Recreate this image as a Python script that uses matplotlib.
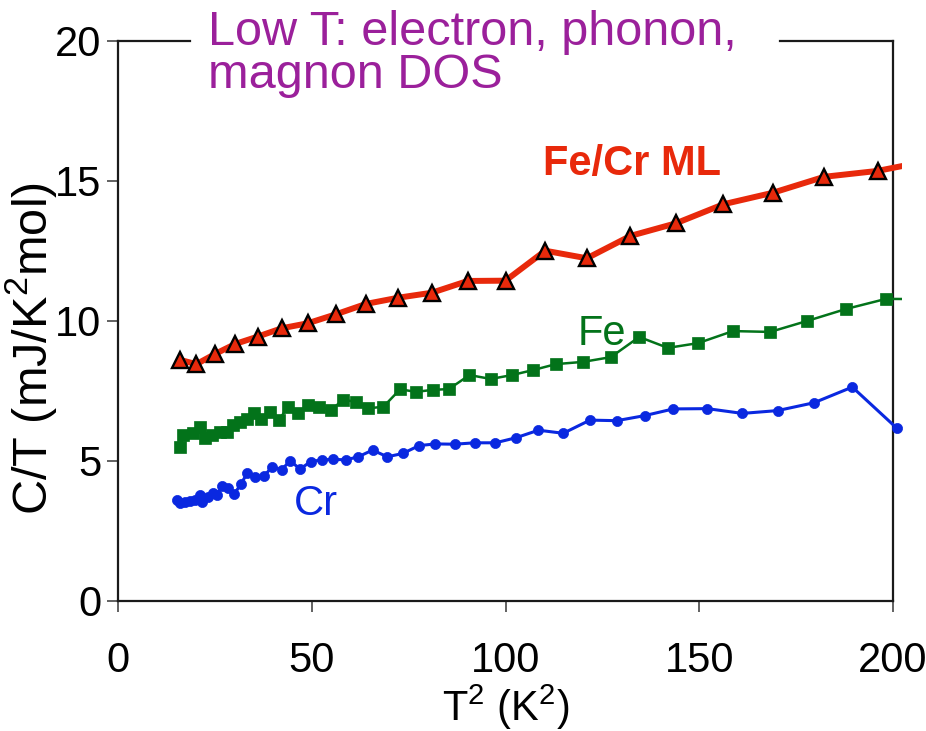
import matplotlib
matplotlib.use("Agg")
import matplotlib.pyplot as plt
from matplotlib import font_manager
from matplotlib.transforms import Bbox, TransformedBbox

# ---- data -------------------------------------------------------------
# Fe/Cr multilayer
fecr_t2 = [16.0, 20.25, 25.0, 30.25, 36.0, 42.25, 49.0, 56.25, 64.0, 72.25,
           81.0, 90.25, 100.0, 110.25, 121.0, 132.25, 144.0, 156.25, 169.0,
           182.25, 196.0, 210.25]
fecr_ct = [8.61, 8.46, 8.82, 9.18, 9.44, 9.74, 9.92, 10.24, 10.61, 10.83,
           11.01, 11.43, 11.44, 12.51, 12.24, 13.04, 13.49, 14.17, 14.58,
           15.15, 15.36, 15.75]

# Fe
fe_t2 = [16.0, 16.9, 19.4, 21.2, 22.5, 24.2, 26.3, 28.1, 29.8, 31.5, 33.2,
         35.2, 36.9, 39.2, 41.5, 43.9, 46.4, 49.1, 51.9, 55.0, 58.0, 61.4,
         64.6, 68.5, 72.8, 76.9, 81.2, 85.4, 90.7, 96.2, 101.7, 107.2, 113.0,
         120.0, 127.2, 134.5, 141.9, 149.7, 158.7, 168.3, 177.8, 187.9, 198.2,
         208.0]
fe_ct = [5.51, 5.93, 5.99, 6.23, 5.81, 5.93, 6.05, 6.02, 6.29, 6.40, 6.50,
         6.70, 6.49, 6.76, 6.46, 6.94, 6.70, 7.00, 6.94, 6.82, 7.18, 7.12,
         6.88, 6.94, 7.56, 7.47, 7.54, 7.57, 8.07, 7.93, 8.07, 8.25, 8.46,
         8.54, 8.71, 9.43, 9.04, 9.21, 9.64, 9.61, 10.00, 10.43, 10.79, 10.78]

# Cr
cr_t2 = [15.1, 16.0, 17.3, 18.6, 19.9, 21.1, 21.6, 23.3, 24.4, 25.6, 26.8,
         28.5, 30.0, 31.7, 33.4, 35.4, 37.7, 39.8, 42.2, 44.4, 47.0, 49.7,
         52.6, 55.6, 58.8, 62.0, 65.7, 69.5, 73.5, 77.7, 81.9, 86.9, 92.1,
         97.4, 102.7, 108.5, 114.9, 121.8, 128.7, 135.9, 143.3, 152.1, 161.1,
         170.2, 179.6, 189.5, 201.0, 207.0]
cr_ct = [3.61, 3.49, 3.55, 3.57, 3.61, 3.79, 3.52, 3.71, 3.85, 3.79, 4.11,
         4.03, 3.82, 4.17, 4.58, 4.44, 4.46, 4.80, 4.68, 5.01, 4.71, 4.98,
         5.04, 5.06, 5.04, 5.15, 5.39, 5.15, 5.27, 5.55, 5.61, 5.60, 5.65,
         5.65, 5.83, 6.10, 5.99, 6.46, 6.44, 6.62, 6.86, 6.87, 6.70, 6.80,
         7.08, 7.64, 6.17, 6.17]

x_ticks = [0, 50, 100, 150, 200]
y_ticks = [0, 5, 10, 15, 20]

# ---- style ------------------------------------------------------------
names = {f.name for f in font_manager.fontManager.ttflist}
family = "Liberation Sans" if "Liberation Sans" in names else "DejaVu Sans"
plt.rcParams["font.family"] = [family, "DejaVu Sans"]
plt.rcParams["mathtext.default"] = "regular"

RED = "#e8290b"
GREEN = "#03731a"
BLUE = "#0a28e0"
PURPLE = "#9b209b"

fig = plt.figure(figsize=(9.26, 7.31), dpi=100)
ax = fig.add_axes([118 / 926, 1 - 601 / 731, 775 / 926, 560 / 731])

# lines may run a few pixels past the right frame
clip = TransformedBbox(Bbox([[-0.02, -0.02], [1.011, 1.02]]), ax.transAxes)

l_cr, = ax.plot(cr_t2, cr_ct, color=BLUE, lw=2.2, marker="o", ms=7.3,
                mec=BLUE, mew=0.5, zorder=3)
l_fe, = ax.plot(fe_t2, fe_ct, color=GREEN, lw=1.8, marker="s", ms=8.2,
                mec=GREEN, mew=0.5, zorder=3)
l_fecr, = ax.plot(fecr_t2, fecr_ct, color=RED, lw=4.3, marker="^", ms=12,
                  mfc=RED, mec="black", mew=1.7, zorder=4)
for ln in (l_cr, l_fe, l_fecr):
    ln.set_clip_box(clip)

ax.set_xlim(0, 200)
ax.set_ylim(0, 20)
ax.set_xticks(x_ticks)
ax.set_yticks(y_ticks)

ax.tick_params(axis="both", direction="out", length=8, width=1.3,
               color="#555555", labelsize=30, labelcolor="black")
ax.tick_params(axis="x", pad=21)
ax.tick_params(axis="y", pad=4)

for side in ("left", "bottom", "right"):
    ax.spines[side].set_linewidth(1.6)
    ax.spines[side].set_color("#1a1a1a")
ax.spines["top"].set_visible(False)
# top frame, interrupted by the heading
ax.axhline(20, xmin=0, xmax=0.093, color="#1a1a1a", lw=1.6, clip_on=False)
ax.axhline(20, xmin=0.854, xmax=1, color="#1a1a1a", lw=1.6, clip_on=False)

ax.set_xlabel("T$^2$ (K$^2$)", fontsize=30, va="baseline")
ax.xaxis.set_label_coords(0.5, -0.214)
ax.set_ylabel("C/T (mJ/K$^2$mol)", fontsize=35, va="center")
ax.yaxis.set_label_coords(-0.112, 0.451)

fig.text(208 / 926, 1 - 10 / 731, "Low T: electron, phonon,\nmagnon DOS",
         color=PURPLE, fontsize=35, ha="left", va="top",
         linespacing=0.95, multialignment="left")

ax.text(543 / 926, 1 - 175 / 731, "Fe/Cr ML", transform=fig.transFigure,
        color=RED, fontsize=30, fontweight="bold", ha="left", va="baseline")
ax.text(578 / 926, 1 - 345 / 731, "Fe", transform=fig.transFigure,
        color=GREEN, fontsize=30, ha="left", va="baseline")
ax.text(294 / 926, 1 - 515 / 731, "Cr", transform=fig.transFigure,
        color=BLUE, fontsize=30, ha="left", va="baseline")

fig.savefig("out.png", dpi=100)
